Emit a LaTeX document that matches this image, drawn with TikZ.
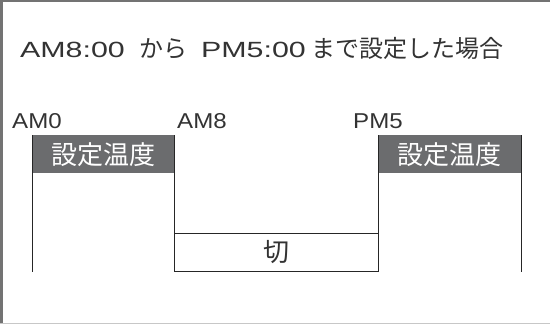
\documentclass[tikz,border=0pt]{standalone}
\usepackage{fontspec}
\setmainfont{Noto Sans CJK JP}
\newfontfamily\latw[FakeStretch=1.38]{Liberation Sans}
\newfontfamily\latn[FakeStretch=1.12]{Liberation Sans}
\begin{document}
\begin{tikzpicture}[x=1pt,y=-1pt,
  txt/.style={inner sep=0pt,text=black!80},
  lat/.style={txt,font=\latw\fontsize{22}{22}\selectfont},
  latl/.style={txt,font=\latn\fontsize{21.5}{21.5}\selectfont},
  cjk/.style={txt,font=\fontsize{24}{24}\selectfont},
  hdrtxt/.style={inner sep=0pt,text=white,font=\fontsize{26}{26}\selectfont},
  ln/.style={line width=0.9pt,draw=black!85}]
\definecolor{hdrgray}{HTML}{6B6C6E}
\useasboundingbox (0,0) rectangle (550,324);
\fill[white] (0,0) rectangle (550,324);
% frame
\fill[black!55] (0,0) rectangle (550,2);
\fill[black!55] (0,0) rectangle (2.5,324);
\fill[black!22] (0,322.5) rectangle (550,324);
% title
\node[lat,anchor=base west] (t1) at (20,57) {AM8:00};
\node[cjk,anchor=base west] (t2) at (139,57) {から};
\node[lat,anchor=base west] (t3) at (201,57) {PM5:00};
\node[cjk,anchor=base west] (t4) at (311,57) {まで設定した場合};
% time labels
\node[latl,anchor=base west] (am0) at (12,128) {AM0};
\node[latl,anchor=base west] (am8) at (177,128) {AM8};
\node[latl,anchor=base west] (pm5) at (353,128) {PM5};
% headers
\fill[hdrgray] (32.5,135) rectangle (174.5,173);
\fill[hdrgray] (378,135) rectangle (521,173);
\node[hdrtxt] (h1) at (103.5,154.5) {設定温度};
\node[hdrtxt] (h2) at (449.5,154.5) {設定温度};
% lines
\coordinate (a0t) at (32.5,135);
\coordinate (a0b) at (32.5,272);
\coordinate (a8t) at (174.5,135);
\coordinate (a8b) at (174.5,271.5);
\coordinate (k1) at (174.5,233.5);
\coordinate (k2) at (378,233.5);
\coordinate (p5t) at (378,135);
\coordinate (p5b) at (378,271.5);
\coordinate (rt) at (521,135);
\coordinate (rb) at (521,272);
\draw[ln] (a0t) -- (a0b);
\draw[ln] (a8t) -- (a8b) -- (p5b) -- (p5t);
\draw[ln] (k1) -- (k2);
\draw[ln] (rt) -- (rb);
\node[txt,font=\fontsize{26}{26}\selectfont] (kiri) at (276,252.5) {切};
\end{tikzpicture}
\end{document}
